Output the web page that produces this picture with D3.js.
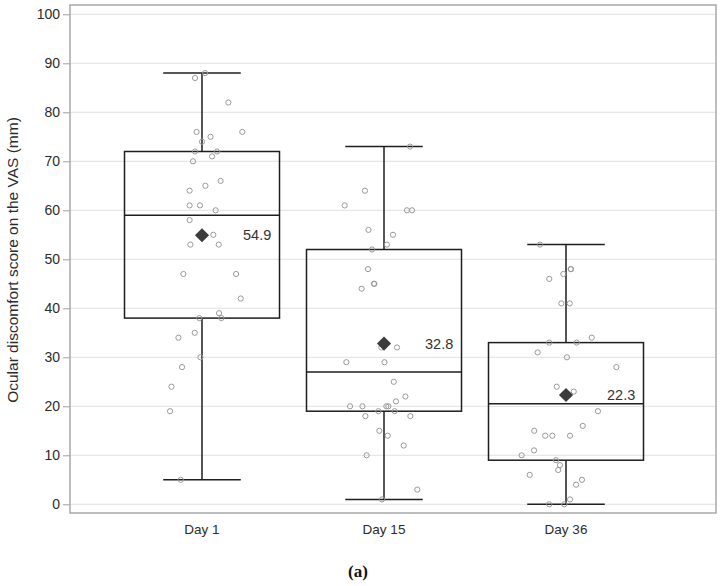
<!DOCTYPE html>
<html>
<head>
<meta charset="utf-8">
<script src="https://cdn.jsdelivr.net/npm/d3@7/dist/d3.min.js"></script>
<style>
  body { margin: 0; background: #fff; }
  text { font-family: "Liberation Sans", Arial, sans-serif; }
</style>
</head>
<body>
<div id="chart"></div>
<script>
// groups on the x axis
var days = ["Day 1", "Day 15", "Day 36"]

// box summaries: [whiskerLow, q1, median, q3, whiskerHigh]
var boxStats = [
    [5, 38, 59, 72, 88],
    [1, 19, 27, 52, 73],
    [0, 9, 20.5, 33, 53]
]
var means = [54.9, 32.8, 22.3]

// individual scores, [value, jitter as share of box width]
var day1Points = [[88,0.02],[87,-0.045],[82,0.17],[76,-0.035],[76,0.26],[75,0.055],[74,0.0],
    [72,-0.045],[72,0.097],[71,0.065],[70,-0.058],[66,0.12],[65,0.022],[64,-0.08],[61,-0.08],
    [61,-0.013],[60,0.088],[58,-0.08],[55,0.073],[53,-0.075],[53,0.108],[47,-0.12],[47,0.22],
    [42,0.25],[39,0.11],[38,-0.017],[38,0.125],[35,-0.047],[34,-0.152],[30,-0.01],[28,-0.129],
    [24,-0.197],[19,-0.206],[5,-0.137]]
var day15Points = [[73,0.168],[64,-0.123],[61,-0.254],[60,0.148],[60,0.181],[56,-0.1],[55,0.058],
    [53,0.019],[52,-0.077],[48,-0.103],[45,-0.065],[45,-0.062],[44,-0.144],[32,-0.017],[32,0.084],
    [29,-0.243],[29,0.003],[25,0.063],[22,0.138],[21,0.077],[20,-0.219],[20,-0.139],[20,0.015],
    [20,0.028],[19,-0.036],[19,0.069],[18,-0.12],[18,0.17],[15,-0.03],[14,0.024],[12,0.127],
    [10,-0.112],[3,0.215],[1,-0.013]]
var day36Points = [[53,-0.168],[48,0.03],[48,0.032],[47,-0.017],[46,-0.108],[41,-0.03],[41,0.024],
    [34,0.166],[33,-0.108],[33,0.069],[31,-0.183],[30,0.006],[28,0.325],[24,-0.06],[23,0.05],
    [19,0.206],[16,0.108],[15,-0.205],[14,-0.134],[14,-0.088],[14,0.026],[11,-0.206],[10,-0.286],
    [9,-0.065],[8,-0.039],[7,-0.05],[6,-0.234],[5,0.103],[4,0.065],[1,0.026],[0,-0.108],[0,-0.011]]
var allPoints = [day1Points, day15Points, day36Points]

var yTicks = d3.range(0, 101, 10)

var width = 727, height = 586
var frame = {left: 70, right: 716, top: 5, bottom: 513}

var svg = d3.select("#chart")
    .append("svg")
    .attr("width", width)
    .attr("height", height)

// scales
var y = d3.scaleLinear()
    .domain([0, 100])
    .range([504.3, 14.3])

var x = d3.scalePoint()
    .domain(days)
    .range([202, 566])

var boxW = 155

// gridlines
svg.append("g")
    .selectAll("line")
    .data(yTicks)
    .enter().append("line")
        .attr("x1", frame.left)
        .attr("x2", frame.right)
        .attr("y1", function(d) { return y(d) })
        .attr("y2", function(d) { return y(d) })
        .style("stroke", "#e2e2e2")
        .style("stroke-width", 1)

// y axis
var yAxis = svg.append("g")
    .attr("transform", `translate(${frame.left},0)`)
    .call(d3.axisLeft(y).tickValues(yTicks).tickSize(7).tickPadding(3))
yAxis.select(".domain").remove()
yAxis.selectAll(".tick line").style("stroke", "#a0a0a0")
yAxis.selectAll(".tick text")
    .style("font-size", "14px")
    .style("fill", "#2b2b2b")
    .style("font-family", "'Liberation Sans', Arial, sans-serif")

// frame
svg.append("rect")
    .attr("x", frame.left)
    .attr("y", frame.top)
    .attr("width", frame.right - frame.left)
    .attr("height", frame.bottom - frame.top)
    .style("fill", "none")
    .style("stroke", "#a8a8a8")
    .style("stroke-width", 1.5)

// x axis labels
svg.append("g")
    .selectAll("text")
    .data(days)
    .enter().append("text")
        .attr("x", function(d) { return x(d) })
        .attr("y", 534)
        .attr("text-anchor", "middle")
        .style("font-size", "13.5px")
        .style("fill", "#2b2b2b")
        .text(function(d) { return d })

// y axis title
svg.append("text")
    .attr("transform", `translate(18,260) rotate(-90)`)
    .attr("text-anchor", "middle")
    .style("font-size", "15.5px")
    .style("fill", "#2b2b2b")
    .text("Ocular discomfort score on the VAS (mm)")

// boxes
var boxes = svg.append("g")
    .selectAll("g")
    .data(days)
    .enter().append("g")

boxes.each(function(d, i) {
    var g = d3.select(this)
    var s = boxStats[i]
    var cx = x(d)
    var line = function(x1, y1, x2, y2) {
        g.append("line")
            .attr("x1", x1).attr("y1", y1)
            .attr("x2", x2).attr("y2", y2)
            .style("stroke", "#1e1e1e")
            .style("stroke-width", 1.5)
    }
    // whiskers
    line(cx, y(s[0]), cx, y(s[1]))
    line(cx, y(s[3]), cx, y(s[4]))
    line(cx - boxW / 4, y(s[0]), cx + boxW / 4, y(s[0]))
    line(cx - boxW / 4, y(s[4]), cx + boxW / 4, y(s[4]))
    // box
    g.append("rect")
        .attr("x", cx - boxW / 2)
        .attr("y", y(s[3]))
        .attr("width", boxW)
        .attr("height", y(s[1]) - y(s[3]))
        .style("fill", "none")
        .style("stroke", "#1e1e1e")
        .style("stroke-width", 1.5)
    line(cx - boxW / 2, y(s[2]), cx + boxW / 2, y(s[2]))
})

// jittered points
allPoints.forEach(function(pts, i) {
    svg.append("g")
        .selectAll("circle")
        .data(pts)
        .enter().append("circle")
            .attr("cx", function(d) { return x(days[i]) + d[1] * boxW })
            .attr("cy", function(d) { return y(d[0]) })
            .attr("r", 2.6)
            .style("fill", "none")
            .style("stroke", "#9a9a9a")
            .style("stroke-width", 1)
})

// means
svg.append("g")
    .selectAll("path")
    .data(means)
    .enter().append("path")
        .attr("d", d3.symbol().type(d3.symbolSquare).size(100))
        .attr("transform", function(d, i) { return `translate(${x(days[i])},${y(d)}) rotate(45)` })
        .style("fill", "#3c3c3c")

svg.append("g")
    .selectAll("text")
    .data(means)
    .enter().append("text")
        .attr("x", function(d, i) { return x(days[i]) + 41 })
        .attr("y", function(d) { return y(d) + 5 })
        .style("font-size", "14.5px")
        .style("fill", "#333")
        .text(function(d) { return d.toFixed(1) })

// panel label
svg.append("text")
    .attr("x", 358)
    .attr("y", 577)
    .attr("text-anchor", "middle")
    .style("font-family", "'Liberation Serif', 'DejaVu Serif', serif")
    .style("font-weight", "bold")
    .style("font-size", "17px")
    .style("fill", "#111")
    .text("(a)")
</script>
</body>
</html>
